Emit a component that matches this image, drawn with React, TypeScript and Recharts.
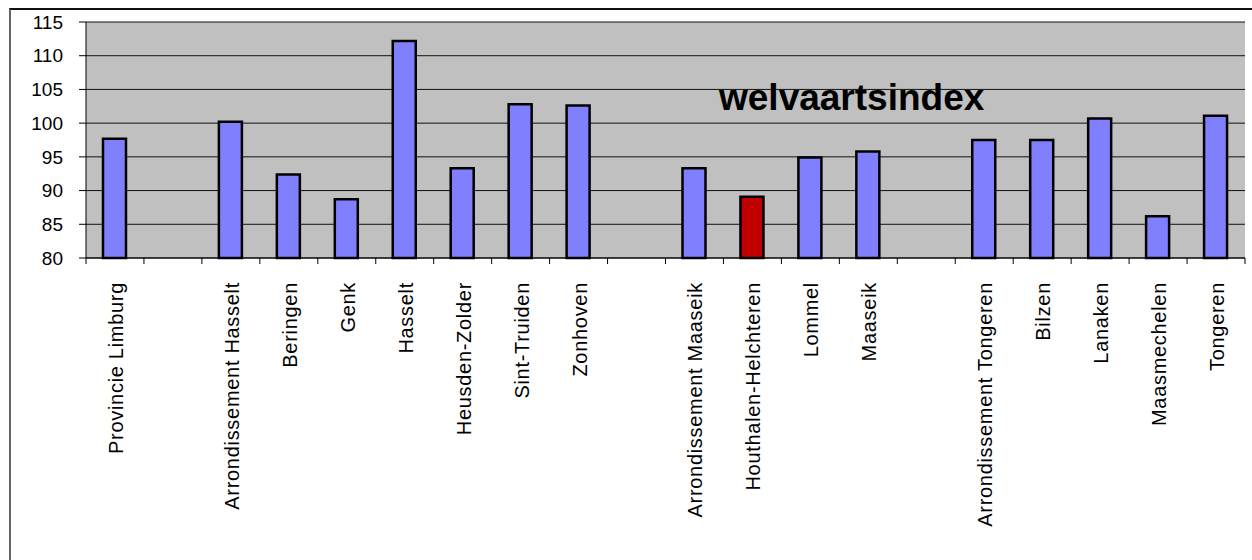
import { BarChart, Bar, XAxis, YAxis, CartesianGrid, Cell } from "recharts"

const categories = [
  "Provincie Limburg",
  "",
  "Arrondissement Hasselt",
  "Beringen",
  "Genk",
  "Hasselt",
  "Heusden-Zolder",
  "Sint-Truiden",
  "Zonhoven",
  "",
  "Arrondissement Maaseik",
  "Houthalen-Helchteren",
  "Lommel",
  "Maaseik",
  "",
  "Arrondissement Tongeren",
  "Bilzen",
  "Lanaken",
  "Maasmechelen",
  "Tongeren",
]

const welvaart = [
  97.7, null, 100.2, 92.4, 88.7, 112.2, 93.3, 102.8, 102.6, null,
  93.3, 89.1, 94.9, 95.8, null, 97.5, 97.5, 100.7, 86.2, 101.1,
]

const highlight = "Houthalen-Helchteren"
const yTicks = [80, 85, 90, 95, 100, 105, 110, 115]

const W = 1252
const H = 560
const M = { top: 22, right: 7, left: 10, bottom: 0 }
const Y_W = 76
const STEP = (W - M.left - Y_W - M.right) / categories.length
const FONT = "'Liberation Sans', Arial, sans-serif"

const data = categories.map((name, i) => ({ name, value: welvaart[i] }))

// ticks between categories like Excel, label rotated under each bar
function CatTick(props: any) {
  const { x, y, payload, index } = props
  const last = index === categories.length - 1
  return (
    <g>
      <line x1={x - STEP / 2} x2={x - STEP / 2} y1={y} y2={y + 6} stroke="#000" />
      {last && <line x1={x + STEP / 2} x2={x + STEP / 2} y1={y} y2={y + 6} stroke="#000" />}
      <text
        x={x + 1}
        y={y + 24}
        transform={`rotate(-90 ${x + 1} ${y + 24})`}
        textAnchor="end"
        dominantBaseline="central"
        fontFamily={FONT}
        fontSize={20}
        letterSpacing={0.7}
        fill="#000"
      >
        {payload.value}
      </text>
    </g>
  )
}

export default function App() {
  return (
    <div style={{ position: "absolute", left: 0, top: 0, width: W, height: H, overflow: "hidden", background: "#fff" }}>
      <div
        style={{
          position: "absolute",
          left: 9,
          top: 8,
          width: W,
          height: H,
          borderTop: "2px solid #111",
          borderLeft: "2px solid #666",
        }}
      />
      <BarChart width={W} height={H} data={data} margin={M} style={{ position: "absolute", left: 0, top: 0 }}>
        <CartesianGrid vertical={false} stroke="#111" fill="#C0C0C0" fillOpacity={1} />
        <XAxis
          dataKey="name"
          interval={0}
          height={H - 258}
          tickLine={false}
          tickSize={0}
          tickMargin={0}
          axisLine={{ stroke: "#000" }}
          tick={<CatTick />}
        />
        <YAxis
          domain={[80, 115]}
          ticks={yTicks}
          width={Y_W}
          tickSize={7}
          tickMargin={16}
          axisLine={{ stroke: "#000" }}
          tickLine={{ stroke: "#000" }}
          tick={{ fontFamily: FONT, fontSize: 19, fill: "#000" }}
        />
        <YAxis
          yAxisId="edge"
          orientation="right"
          width={0}
          tick={false}
          tickLine={false}
          axisLine={{ stroke: "#808080", strokeWidth: 2 }}
        />
        <Bar dataKey="value" barSize={23} stroke="#000" strokeWidth={2.5} isAnimationActive={false}>
          {data.map((d, i) => (
            <Cell key={i} fill={d.name === highlight ? "#C00000" : "#8080FF"} />
          ))}
        </Bar>
      </BarChart>
      <div
        style={{
          position: "absolute",
          left: 719,
          top: 79,
          lineHeight: "37px",
          fontFamily: FONT,
          fontWeight: "bold",
          fontSize: 37,
          color: "#000",
          whiteSpace: "nowrap",
        }}
      >
        welvaartsindex
      </div>
    </div>
  )
}
